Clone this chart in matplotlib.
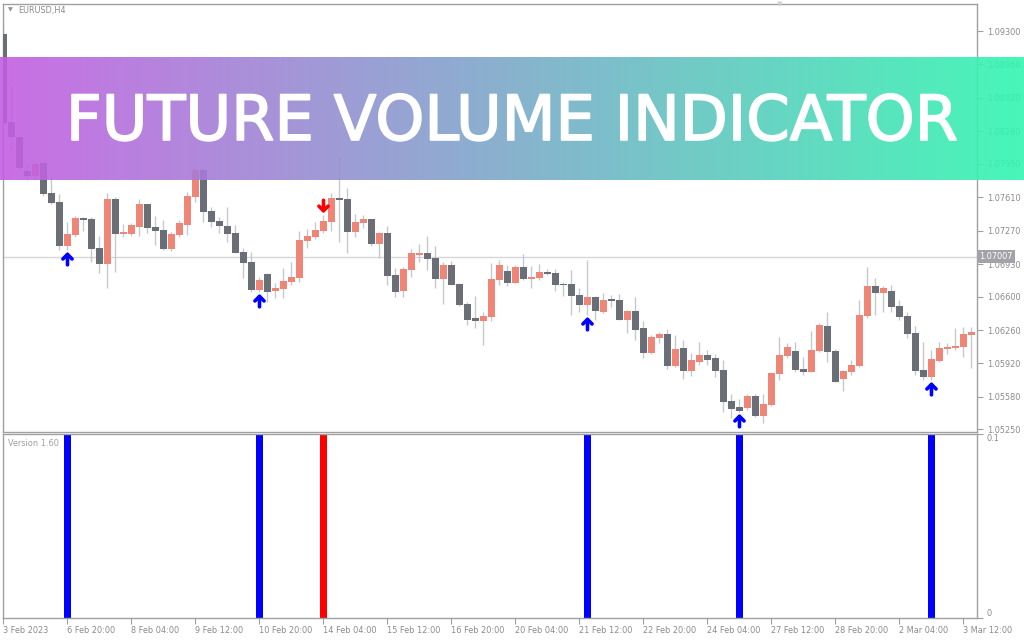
import numpy as np
import matplotlib
matplotlib.use('Agg')
import matplotlib.pyplot as plt
import matplotlib.patheffects as pe
from matplotlib.transforms import blended_transform_factory

# ---------------- data ----------------
symbol = 'EURUSD,H4'
open_ = [1.09270, 1.08375, 1.08223, 1.07877, 1.07826, 1.07958, 1.07653, 1.07562, 1.07114, 1.07226,
         1.07399, 1.07389, 1.07094, 1.06931, 1.07592, 1.07236, 1.07236, 1.07307, 1.07541, 1.07307,
         1.07277, 1.07084, 1.07226, 1.07328, 1.07613, 1.07887, 1.07470, 1.07368, 1.07318, 1.07246,
         1.07053, 1.06951, 1.06667, 1.06829, 1.06657, 1.06677, 1.06748, 1.06789, 1.07165, 1.07206,
         1.07267, 1.07358, 1.07602, 1.07592, 1.07257, 1.07348, 1.07389, 1.07135, 1.07246, 1.06819,
         1.06657, 1.06870, 1.07023, 1.07043, 1.06992, 1.06779, 1.06921, 1.06728, 1.06524, 1.06382,
         1.06351, 1.06392, 1.06768, 1.06860, 1.06738, 1.06901, 1.06779, 1.06789, 1.06850, 1.06840,
         1.06728, 1.06728, 1.06616, 1.06514, 1.06596, 1.06443, 1.06575, 1.06565, 1.06362, 1.06453,
         1.06280, 1.06026, 1.06179, 1.06219, 1.05894, 1.06077, 1.05843, 1.05934, 1.06006, 1.05975,
         1.05853, 1.05538, 1.05477, 1.05467, 1.05589, 1.05385, 1.05497, 1.05812, 1.05995, 1.06046,
         1.05863, 1.05833, 1.06046, 1.06301, 1.06046, 1.05762, 1.05833, 1.05894, 1.06402, 1.06707,
         1.06636, 1.06657, 1.06504, 1.06402, 1.06229, 1.05853, 1.05782, 1.05945, 1.06067, 1.06077,
         1.06087, 1.06209]
high = [1.09372, 1.08741, 1.08233, 1.07958, 1.07968, 1.07979, 1.07816, 1.07643, 1.07358, 1.07419,
        1.07409, 1.07409, 1.07216, 1.07653, 1.07613, 1.07338, 1.07348, 1.07592, 1.07541, 1.07419,
        1.07379, 1.07257, 1.07379, 1.07663, 1.07907, 1.07907, 1.07511, 1.07409, 1.07511, 1.07328,
        1.07094, 1.07053, 1.06799, 1.06840, 1.06738, 1.06890, 1.06951, 1.07267, 1.07287, 1.07358,
        1.07429, 1.07653, 1.08019, 1.07704, 1.07440, 1.07429, 1.07389, 1.07257, 1.07318, 1.06890,
        1.06901, 1.07084, 1.07135, 1.07216, 1.07114, 1.06951, 1.06962, 1.06738, 1.06545, 1.06606,
        1.06443, 1.06941, 1.06972, 1.06921, 1.06921, 1.07033, 1.06911, 1.06931, 1.06880, 1.06880,
        1.06748, 1.06870, 1.06687, 1.06972, 1.06606, 1.06636, 1.06616, 1.06626, 1.06463, 1.06596,
        1.06351, 1.06209, 1.06240, 1.06270, 1.06209, 1.06158, 1.06026, 1.06138, 1.06056, 1.06016,
        1.05955, 1.05609, 1.05558, 1.05609, 1.05609, 1.05609, 1.05833, 1.06189, 1.06128, 1.06138,
        1.05985, 1.06250, 1.06331, 1.06443, 1.06067, 1.05853, 1.05955, 1.06565, 1.06901, 1.06789,
        1.06707, 1.06718, 1.06565, 1.06443, 1.06301, 1.06138, 1.06056, 1.06138, 1.06128, 1.06280,
        1.06290, 1.06290]
low = [1.08355, 1.08090, 1.07887, 1.07785, 1.07806, 1.07623, 1.07541, 1.07073, 1.07073, 1.07206,
       1.07267, 1.06951, 1.06840, 1.06687, 1.06850, 1.07206, 1.07216, 1.07216, 1.07246, 1.07124,
       1.07073, 1.07063, 1.07206, 1.07226, 1.07562, 1.07358, 1.07307, 1.07246, 1.07155, 1.07043,
       1.06789, 1.06646, 1.06646, 1.06545, 1.06585, 1.06585, 1.06718, 1.06748, 1.07094, 1.07185,
       1.07246, 1.07267, 1.07155, 1.07043, 1.07206, 1.07297, 1.07114, 1.06992, 1.06718, 1.06596,
       1.06596, 1.06799, 1.06951, 1.06870, 1.06687, 1.06524, 1.06718, 1.06504, 1.06311, 1.06280,
       1.06107, 1.06351, 1.06718, 1.06707, 1.06738, 1.06768, 1.06687, 1.06768, 1.06819, 1.06657,
       1.06606, 1.06412, 1.06443, 1.06412, 1.06362, 1.06433, 1.06494, 1.06362, 1.06229, 1.06158,
       1.05975, 1.06016, 1.06128, 1.05863, 1.05884, 1.05762, 1.05792, 1.05904, 1.05904, 1.05782,
       1.05426, 1.05365, 1.05426, 1.05446, 1.05375, 1.05314, 1.05487, 1.05751, 1.05975, 1.05833,
       1.05802, 1.05833, 1.06036, 1.05934, 1.05731, 1.05640, 1.05802, 1.05884, 1.06382, 1.06412,
       1.06443, 1.06443, 1.06362, 1.06179, 1.05802, 1.05751, 1.05751, 1.05934, 1.06016, 1.06056,
       1.05985, 1.05873]
close = [1.08365, 1.08223, 1.07907, 1.07826, 1.07948, 1.07643, 1.07551, 1.07114, 1.07236, 1.07399,
         1.07379, 1.07084, 1.06931, 1.07592, 1.07236, 1.07257, 1.07328, 1.07541, 1.07297, 1.07267,
         1.07084, 1.07236, 1.07348, 1.07623, 1.07887, 1.07460, 1.07358, 1.07318, 1.07236, 1.07043,
         1.06941, 1.06667, 1.06768, 1.06646, 1.06687, 1.06758, 1.06799, 1.07175, 1.07216, 1.07277,
         1.07368, 1.07602, 1.07582, 1.07257, 1.07358, 1.07389, 1.07135, 1.07246, 1.06809, 1.06646,
         1.06880, 1.07043, 1.07043, 1.06982, 1.06779, 1.06921, 1.06718, 1.06514, 1.06362, 1.06351,
         1.06402, 1.06779, 1.06921, 1.06738, 1.06901, 1.06779, 1.06799, 1.06850, 1.06829, 1.06718,
         1.06718, 1.06606, 1.06514, 1.06596, 1.06453, 1.06565, 1.06555, 1.06362, 1.06453, 1.06260,
         1.06026, 1.06189, 1.06219, 1.05894, 1.06067, 1.05843, 1.05955, 1.06006, 1.05955, 1.05843,
         1.05528, 1.05456, 1.05436, 1.05589, 1.05385, 1.05507, 1.05823, 1.06006, 1.06087, 1.05853,
         1.05833, 1.06056, 1.06311, 1.06036, 1.05731, 1.05843, 1.05904, 1.06412, 1.06707, 1.06636,
         1.06687, 1.06494, 1.06392, 1.06219, 1.05843, 1.05782, 1.05965, 1.06077, 1.06087, 1.06097,
         1.06219, 1.06240]

buy_signals = [8, 32, 73, 92, 116]
sell_signals = [40]
signal_value = 0.1

current_price = 1.07007
price_ticks = [1.09300, 1.08960, 1.08620, 1.08280, 1.07950, 1.07610, 1.07270,
               1.06930, 1.06600, 1.06260, 1.05920, 1.05580, 1.05250]
date_tick_idx = [0, 8, 16, 24, 32, 40, 48, 56, 64, 72, 80, 88, 96, 104, 112, 120]
date_labels = ['3 Feb 2023', '6 Feb 20:00', '8 Feb 04:00', '9 Feb 12:00', '10 Feb 20:00',
               '14 Feb 04:00', '15 Feb 12:00', '16 Feb 20:00', '20 Feb 04:00', '21 Feb 12:00',
               '22 Feb 20:00', '24 Feb 04:00', '27 Feb 12:00', '28 Feb 20:00', '2 Mar 04:00',
               '3 Mar 12:00']
title_text = 'FUTURE VOLUME INDICATOR'
version_text = 'Version 1.60'

# ---------------- style ----------------
BULL = '#EE8577'
BEAR = '#6A6F77'
WICK = '#C6C8D0'
FRAME = '#A0A0A0'
TXT = '#8A8A8A'
FS = 5.9

W, H = 1024, 640
fig = plt.figure(figsize=(W / 100, H / 100), dpi=100)
fig.patch.set_facecolor('white')

def fx(px): return px / W
def fy(py): return 1 - py / H

ax = fig.add_axes([fx(3), fy(432), fx(977) - fx(3), fy(4) - fy(432)])
ax2 = fig.add_axes([fx(3), fy(618), fx(977) - fx(3), fy(434) - fy(618)])

n = len(open_)
x = np.arange(n)
o = np.array(open_); h = np.array(high); l = np.array(low); c = np.array(close)
bull = c >= o
colors = np.where(bull, BULL, BEAR)

ax.vlines(x, l, h, color=WICK, lw=1, zorder=2)
bottoms = np.minimum(o, c)
heights = np.maximum(np.abs(c - o), 0.00008)
ax.bar(x, heights, bottom=bottoms, width=0.85, color=colors, zorder=3, linewidth=0)

ax.axhline(current_price, color='#D6D6DB', lw=1, zorder=1)

for i in buy_signals:
    ax.annotate('', xy=(i, low[i] - 0.00018), xytext=(0, -13), textcoords='offset pixels',
                arrowprops=dict(arrowstyle='->,head_width=0.33,head_length=0.33', color='#0000FF',
                                lw=2.6, shrinkA=0, shrinkB=0), zorder=5)
for i in sell_signals:
    ax.annotate('', xy=(i, high[i] + 0.00018), xytext=(0, 13), textcoords='offset pixels',
                arrowprops=dict(arrowstyle='->,head_width=0.33,head_length=0.33', color='#FF0000',
                                lw=2.6, shrinkA=0, shrinkB=0), zorder=5)

xlim = (-0.0625, 121.69)
ax.set_xlim(*xlim)
ax.set_ylim(1.05223, 1.09575)
ax.yaxis.tick_right()
ax.set_yticks(price_ticks)
ax.set_yticklabels(['%.5f' % v for v in price_ticks])
ax.tick_params(axis='y', direction='out', length=4, width=0.8, color=FRAME,
               labelsize=FS, labelcolor=TXT, pad=3)
ax.set_xticks([])
for s in ax.spines.values():
    s.set_color(FRAME); s.set_linewidth(1)

trans = blended_transform_factory(ax.transAxes, ax.transData)
ax.text(1.0025, current_price, '%.5f' % current_price, transform=trans, ha='left', va='center',
        fontsize=FS, color='white', zorder=10, clip_on=False,
        bbox=dict(boxstyle='square,pad=0.25', fc='#A2A2A8', ec='none'))

# indicator panel
sig_colors = {}
for i in buy_signals:
    sig_colors[i] = '#0000FF'
for i in sell_signals:
    sig_colors[i] = '#FF0000'
idx = sorted(sig_colors)
ax2.bar(idx, [signal_value] * len(idx), width=0.85, color=[sig_colors[i] for i in idx], linewidth=0)
ax2.set_xlim(*xlim)
ax2.set_ylim(0, 0.1)
ax2.yaxis.tick_right()
ax2.set_yticks([0, 0.1])
ax2.set_yticklabels(['0', '0.1'])
ax2.tick_params(axis='y', direction='out', length=4, width=0.8, color=FRAME,
                labelsize=FS, labelcolor=TXT, pad=3)
yl = ax2.get_yticklabels()
yl[0].set_va('bottom'); yl[1].set_va('top')
ax2.set_xticks(date_tick_idx)
ax2.set_xticklabels(date_labels)
ax2.tick_params(axis='x', direction='out', length=4, width=0.8, color=FRAME,
                labelsize=FS, labelcolor=TXT, pad=2)
for t in ax2.get_xticklabels():
    t.set_ha('left')
for s in ax2.spines.values():
    s.set_color(FRAME); s.set_linewidth(1)
ax2.text(0.005, 0.975, version_text, transform=ax2.transAxes, ha='left', va='top',
         fontsize=FS, color='#A0A0A0')

fig.text(fx(8), fy(10), '\u25BC', fontsize=4.5, color='#909090', ha='left', va='center')
fig.text(fx(18), fy(10), symbol, fontsize=FS, color='#8A8A8A', ha='left', va='center')
fig.text(fx(780), fy(4), '\u25BC', fontsize=5, color='#D0D0D0', ha='center', va='center')

# banner
bax = fig.add_axes([0, fy(180), 1, fy(57) - fy(180)], zorder=20)
c1 = np.array([196, 94, 226]) / 255
c2 = np.array([50, 246, 176]) / 255
tt = np.linspace(0, 1, 512)[None, :, None]
grad = c1 * (1 - tt) + c2 * tt
bax.imshow(grad, aspect='auto', extent=[0, 1, 0, 1], alpha=0.9)
bax.set_axis_off()
bt = fig.text(0.5, fy(140), title_text, ha='center', va='baseline', color='white',
              fontsize=40, family='DejaVu Sans', zorder=30,
              path_effects=[pe.withStroke(linewidth=1.2, foreground='white')])
fig.canvas.draw()
w = bt.get_window_extent().width
bt.set_fontsize(40 * 893 / w)

fig.savefig('out.png', dpi=100, facecolor='white')
